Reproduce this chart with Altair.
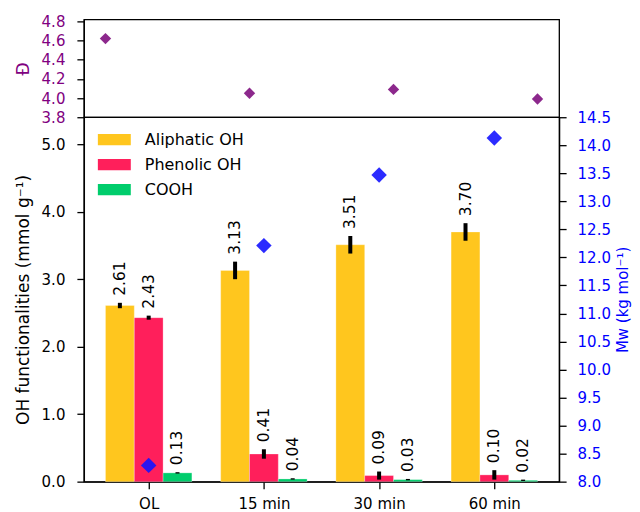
import json
import altair as alt
import pandas as pd

# ---------------- data ----------------
categories = ["OL", "15 min", "30 min", "60 min"]
series = ["Aliphatic OH", "Phenolic OH", "COOH"]
aliphatic = [2.61, 3.13, 3.51, 3.70]
phenolic = [2.43, 0.41, 0.09, 0.10]
cooh = [0.13, 0.04, 0.03, 0.02]
aliphatic_err = [0.04, 0.13, 0.13, 0.13]
phenolic_err = [0.03, 0.07, 0.06, 0.07]
cooh_err = [0.01, 0.01, 0.01, 0.01]
dispersity = [4.62, 4.05, 4.09, 3.99]
mw = [8.29, 12.21, 13.47, 14.13]
colors = ["#FFC61E", "#FF1F5B", "#00CD6C"]
left_ticks = [0, 1, 2, 3, 4, 5]
right_ticks = [8.0, 8.5, 9.0, 9.5, 10.0, 10.5, 11.0, 11.5, 12.0, 12.5, 13.0, 13.5, 14.0, 14.5]
disp_ticks = [3.8, 4.0, 4.2, 4.4, 4.6, 4.8]

FONT = "DejaVu Sans"
BAR_W = 0.25

rows = []
for j, (name, vals, errs) in enumerate(
    zip(series, [aliphatic, phenolic, cooh], [aliphatic_err, phenolic_err, cooh_err])
):
    for i, cat in enumerate(categories):
        c = i + (j - 1) * BAR_W
        rows.append(
            dict(
                series=name,
                cat=cat,
                center=c,
                left=c - BAR_W / 2,
                right=c + BAR_W / 2,
                value=vals[i],
                lo=vals[i] - errs[i],
                hi=vals[i] + errs[i],
                label=f"{vals[i]:.2f}",
            )
        )
bars_df = pd.DataFrame(rows)
pts_df = pd.DataFrame({"pos": list(range(len(categories))), "cat": categories,
                       "disp": dispersity, "mw": mw})

label_expr = json.dumps(categories) + "[datum.value]"

x_scale = alt.Scale(domain=[-0.5625, 3.5625], nice=False, zero=False)
x_axis = alt.Axis(values=list(range(len(categories))), labelExpr=label_expr,
                  title=None, grid=False, labelPadding=8, labelFontSize=15)

def xenc(field):
    return alt.X(field, type="quantitative", scale=x_scale, axis=x_axis)

y_scale = alt.Scale(domain=[0, 5.4], nice=False, zero=True)
y_axis = alt.Axis(values=left_ticks, format=".1f", orient="left",
                  title="OH functionalities (mmol g⁻¹)", grid=False,
                  labelPadding=12, titlePadding=9, titleFontSize=17)

def yenc(field):
    return alt.Y(field, type="quantitative", scale=y_scale, axis=y_axis)

base = alt.Chart(bars_df)

bars = base.mark_bar(stroke="white", strokeOpacity=0.35, strokeWidth=0.8).encode(
    x=xenc("left"),
    x2="right",
    y=yenc("value"),
    y2=alt.datum(0),
    color=alt.Color(
        "series:N",
        scale=alt.Scale(domain=series, range=colors),
        legend=alt.Legend(
            title=None,
            orient="none",
            legendX=14,
            legendY=6,
            padding=0,
            symbolType="M-1,-0.34L1,-0.34L1,0.34L-1,0.34Z",
            symbolSize=1089,
            symbolStrokeWidth=0,
            labelFontSize=16,
            labelOffset=14,
            rowPadding=0,
        ),
        sort=series,
    ),
)

errs = base.mark_rule(color="black", strokeWidth=4).encode(
    x=xenc("center"),
    y=yenc("lo"),
    y2="hi",
)

texts = base.mark_text(angle=270, align="left", baseline="middle", dx=7,
                       fontSize=15.5, font=FONT, color="black").encode(
    x=xenc("center"),
    y=yenc("hi"),
    text="label:N",
)

left_group = alt.layer(bars, errs, texts)

mw_points = alt.Chart(pts_df).mark_point(
    shape="diamond", filled=True, size=240, color="#1414FF", opacity=0.9
).encode(
    x=xenc("pos"),
    y=alt.Y(
        "mw:Q",
        scale=alt.Scale(domain=[8.0, 14.5], nice=False, zero=False),
        axis=alt.Axis(
            orient="right",
            values=right_ticks,
            format=".1f",
            title="Mw (kg mol⁻¹)",
            titleColor="#0000FF",
            labelColor="#0000FF",
            titleAngle=270,
            titleBaseline="top",
            titleFontSize=15,
            labelPadding=11,
            titlePadding=5,
            grid=False,
        ),
    ),
)

bottom = alt.layer(left_group, mw_points).resolve_scale(y="independent").properties(
    width=476, height=365
)

top = alt.Chart(pts_df).mark_point(
    shape="diamond", filled=True, size=130, color="#861C86", opacity=0.95
).encode(
    x=alt.X("pos:Q", scale=alt.Scale(domain=[-0.15, 3.15], nice=False, zero=False),
            axis=None),
    y=alt.Y(
        "disp:Q",
        scale=alt.Scale(domain=[3.8, 4.82], nice=False, zero=False),
        axis=alt.Axis(
            values=disp_ticks,
            format=".1f",
            title="Đ",
            titleColor="#800080",
            labelColor="#800080",
            grid=False,
            labelPadding=12,
            titlePadding=9,
            titleFontSize=17,
        ),
    ),
).properties(width=476, height=98)

chart = (
    alt.vconcat(top, bottom, spacing=0, bounds="flush")
    .resolve_scale(color="independent")
    .properties(padding={"left": 5, "top": 5, "right": 0, "bottom": 0})
    .configure(font=FONT)
    .configure_view(stroke="black", strokeWidth=1.3)
    .configure_axis(
        labelFont=FONT,
        titleFont=FONT,
        labelFontSize=15,
        titleFontSize=16,
        titleFontWeight="normal",
        domainColor="black",
        domainWidth=1.3,
        tickColor="black",
        tickWidth=1.3,
        tickSize=7,
        labelColor="black",
        titleColor="black",
    )
    .configure_legend(labelFont=FONT, labelColor="black")
)

chart.save("out.html", embed_options={"renderer": "svg", "actions": False})
